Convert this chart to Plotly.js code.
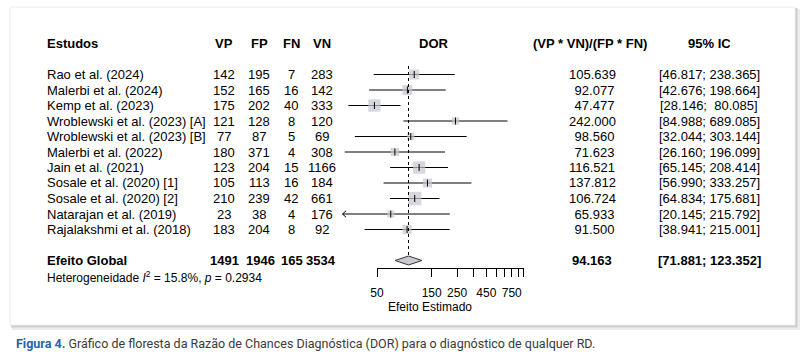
<!DOCTYPE html>
<html>
<head>
<meta charset="utf-8">
<script src="https://cdn.plot.ly/plotly-3.0.1.min.js"></script>
<style>
  html, body { margin: 0; padding: 0; background: #ffffff; }
  #chart { width: 805px; height: 354px; }
</style>
</head>
<body>
<div id="chart"></div>
<script>
// ---------------- data ----------------
const studies = ["Rao et al. (2024)", "Malerbi et al. (2024)", "Kemp et al. (2023)",
  "Wroblewski et al. (2023) [A]", "Wroblewski et al. (2023) [B]", "Malerbi et al. (2022)",
  "Jain et al. (2021)", "Sosale et al. (2020) [1]", "Sosale et al. (2020) [2]",
  "Natarajan et al. (2019)", "Rajalakshmi et al. (2018)"];
const vp = [142, 152, 175, 121, 77, 180, 123, 105, 210, 23, 183];
const fp = [195, 165, 202, 128, 87, 371, 204, 113, 239, 38, 204];
const fn = [7, 16, 40, 8, 5, 4, 15, 16, 42, 4, 8];
const vn = [283, 142, 333, 120, 69, 308, 1166, 184, 661, 176, 92];
const dor = [105.639, 92.077, 47.477, 242.000, 98.560, 71.623, 116.521, 137.812, 106.724, 65.933, 91.500];
const ciLow = [46.817, 42.676, 28.146, 84.988, 32.044, 26.160, 65.145, 56.990, 64.834, 20.145, 38.941];
const ciHigh = [238.365, 198.664, 80.085, 689.085, 303.144, 196.099, 208.414, 333.257, 175.681, 215.792, 215.001];
const weights = [9.3, 9.3, 14.1, 5.0, 5.0, 6.4, 14.1, 7.6, 16.5, 4.6, 8.0];

const totalLabel = "Efeito Global";
const totals = [1491, 1946, 165, 3534];
const pooledDor = 94.163;
const pooledLow = 71.881;
const pooledHigh = 123.352;
const i2 = "15.8%";
const pHet = "0.2934";

const headers = ["Estudos", "VP", "FP", "FN", "VN", "DOR", "(VP * VN)/(FP * FN)", "95% IC"];
const tickValues = [50, 150, 250, 350, 450, 550, 650, 750, 850, 950];
const labeledTicks = [50, 150, 250, 450, 750];
const axisLabel = "Efeito Estimado";
const xLimits = [25, 1000];
const caption = "<span style='color:#2763ad'><b>Figura 4.</b></span> Gráfico de floresta da Razão de Chances Diagnóstica (DOR) para o diagnóstico de qualquer RD.";

// ---------------- layout helpers ----------------
const W = 805, H = 354;
const FONT = "Liberation Sans, Arial, Helvetica, sans-serif";
const px = v => v / W;            // pixel x -> paper
const py = v => (H - v) / H;      // pixel y -> paper
const rowY0 = 74.5, rowH = 15.5;
const rowOf = p => (p - rowY0) / rowH;
const rowPix = k => rowY0 + k * rowH;

const pxPerDecade = 114.6, x50 = 377.0;
const xpix = v => x50 + Math.log10(v / 50) * pxPerDecade;

const colX = {vp: 224, fp: 259, fn: 291, vn: 322, dorc: 592, ci: 709};

function fmt3(v) { return v.toFixed(3); }
function padL(s, n) { while (s.length < n) s = "\u00a0" + s; return s; }
function ciStr(lo, hi) {
  return "[" + padL(fmt3(lo), 6) + ";\u00a0" + padL(fmt3(hi), 7) + "]";
}

const annotations = [];
function txt(x, k, text, opts = {}) {
  annotations.push(Object.assign({
    xref: "paper", yref: "paper", x: px(x), y: py(rowPix(k)), text: text, showarrow: false,
    xanchor: "center", yanchor: "middle",
    font: {family: FONT, size: 13, color: "#000"}
  }, opts));
}

// headers
const hy = -2;
txt(45, hy, "<b>" + headers[0] + "</b>", {xanchor: "left"});
txt(colX.vp, hy, "<b>" + headers[1] + "</b>");
txt(colX.fp, hy, "<b>" + headers[2] + "</b>");
txt(colX.fn, hy, "<b>" + headers[3] + "</b>");
txt(colX.vn, hy, "<b>" + headers[4] + "</b>");
txt(434, hy, "<b>" + headers[5] + "</b>");
txt(590, hy, "<b>" + headers[6] + "</b>");
txt(709, hy, "<b>" + headers[7] + "</b>");

// study rows
studies.forEach((s, i) => {
  txt(45, i, s, {xanchor: "left"});
  txt(colX.vp, i, String(vp[i]));
  txt(colX.fp, i, String(fp[i]));
  txt(colX.fn, i, String(fn[i]));
  txt(colX.vn, i, String(vn[i]));
  txt(colX.dorc, i, padL(fmt3(dor[i]), 7));
  txt(colX.ci, i, ciStr(ciLow[i], ciHigh[i]));
});

// totals row
const ty = 12;
txt(45, ty, "<b>" + totalLabel + "</b>", {xanchor: "left"});
txt(224, ty, "<b>" + totals[0] + "</b>");
txt(260, ty, "<b>" + totals[1] + "</b>");
txt(292, ty, "<b>" + totals[2] + "</b>");
txt(321, ty, "<b>" + totals[3] + "</b>");
txt(colX.dorc, ty, "<b>" + fmt3(pooledDor) + "</b>");
txt(colX.ci, ty, "<b>" + ciStr(pooledLow, pooledHigh) + "</b>");

// heterogeneity
txt(45, 13.05, "Heterogeneidade <i>I</i><sup>2</sup> = " + i2 + ", <i>p</i> = " + pHet,
  {xanchor: "left", font: {family: FONT, size: 12, color: "#000"}});

// axis title
txt(430, 14.98, axisLabel, {font: {family: FONT, size: 12, color: "#000"}});

// caption
annotations.push({
  xref: "paper", yref: "paper", x: px(14), y: py(343), xanchor: "left", yanchor: "middle",
  showarrow: false, text: caption,
  font: {family: "Roboto, Liberation Sans, sans-serif", size: 12.5, color: "#3a3a3a"}
});

// ---------------- traces ----------------
const ciX = [], ciY = [];
const arrX = [], arrY = [];
studies.forEach((s, i) => {
  ciX.push(Math.max(ciLow[i], xLimits[0]), ciHigh[i], null);
  ciY.push(i, i, null);
  if (ciLow[i] < xLimits[0]) {   // open arrow head for CIs beyond the left limit
    arrX.push(xLimits[0] * 1.075, xLimits[0], xLimits[0] * 1.075, null);
    arrY.push(i - 0.21, i, i + 0.21, null);
  }
});
const idx = studies.map((s, i) => i);

const traces = [
  { // CI lines
    type: "scatter", mode: "lines", x: ciX, y: ciY, xaxis: "x", yaxis: "y",
    line: {color: "#000", width: 1}, hoverinfo: "skip", showlegend: false
  },
  { // arrow heads
    type: "scatter", mode: "lines", x: arrX, y: arrY,
    line: {color: "#000", width: 1}, hoverinfo: "skip", showlegend: false
  },
  { // weight squares
    type: "scatter", mode: "markers", x: dor, y: idx,
    marker: {symbol: "square", size: weights.map(w => 3.28 * Math.sqrt(w)),
             color: "#c4c8cf", line: {width: 0}},
    hoverinfo: "skip", showlegend: false, cliponaxis: false
  },
  { // point estimate ticks
    type: "scatter", mode: "markers", x: dor, y: idx,
    marker: {symbol: "line-ns", size: 5, color: "#000", line: {width: 1, color: "#000"}},
    hoverinfo: "skip", showlegend: false, cliponaxis: false
  },
  { // pooled effect reference line (dotted)
    type: "scatter", mode: "lines", x: [pooledDor, pooledDor], y: [-0.55, 12 - 0.29],
    line: {color: "#000", width: 1, dash: "dot"}, hoverinfo: "skip", showlegend: false
  },
  { // diamond
    type: "scatter", mode: "lines",
    x: [pooledLow, pooledDor, pooledHigh, pooledDor, pooledLow],
    y: [12, 12 - 0.29, 12, 12 + 0.29, 12],
    fill: "toself", fillcolor: "#c8ccd2", line: {color: "#333", width: 1},
    hoverinfo: "skip", showlegend: false
  },
  { // invisible carrier so the estimate axis is drawn
    type: "scatter", mode: "markers", x: tickValues, y: tickValues.map(() => 12),
    xaxis: "x2", yaxis: "y", marker: {opacity: 0, size: 1},
    hoverinfo: "skip", showlegend: false
  }
];

// ---------------- frame shapes ----------------
const shapes = [
  {type: "rect", xref: "paper", yref: "paper", layer: "below",
   x0: px(12), x1: px(800), y0: py(330), y1: py(9), fillcolor: "#ececec", line: {width: 0}},
  {type: "rect", xref: "paper", yref: "paper", layer: "below",
   x0: px(11), x1: px(797.5), y0: py(327.5), y1: py(8), fillcolor: "#cfcfcf", line: {width: 0}},
  {type: "rect", xref: "paper", yref: "paper", layer: "below",
   x0: px(10), x1: px(795), y0: py(325), y1: py(7), fillcolor: "#ffffff",
   line: {color: "#ececec", width: 1}}
];

const xr0 = xLimits[0] * 0.96, xr1 = xLimits[1];
const layout = {
  width: W, height: H,
  margin: {l: 0, r: 0, t: 0, b: 0},
  paper_bgcolor: "#ffffff", plot_bgcolor: "rgba(0,0,0,0)",
  showlegend: false,
  xaxis: {
    type: "log", domain: [px(xpix(xr0)), px(xpix(xr1))],
    range: [Math.log10(xr0), Math.log10(xr1)],
    visible: false, fixedrange: true
  },
  xaxis2: {
    type: "log", anchor: "y", domain: [px(xpix(50)), px(xpix(950))],
    range: [Math.log10(50), Math.log10(950)],
    showline: true, linecolor: "#000", linewidth: 1,
    ticks: "outside", ticklen: 8, tickwidth: 1, tickcolor: "#000",
    tickmode: "array", tickvals: labeledTicks, ticktext: labeledTicks.map(String),
    minor: {tickmode: "array", tickvals: tickValues.filter(v => !labeledTicks.includes(v)),
            ticks: "outside", ticklen: 8, tickwidth: 1, tickcolor: "#000", showgrid: false},
    ticklabelstandoff: 6,
    tickfont: {family: FONT, size: 12, color: "#000"},
    showgrid: false, zeroline: false, fixedrange: true
  },
  yaxis: {
    domain: [py(268), py(20)],
    range: [rowOf(268), rowOf(20)],
    visible: false, fixedrange: true
  },
  annotations: annotations,
  shapes: shapes
};

Plotly.newPlot("chart", traces, layout, {displayModeBar: false, staticPlot: true});
</script>
</body>
</html>
